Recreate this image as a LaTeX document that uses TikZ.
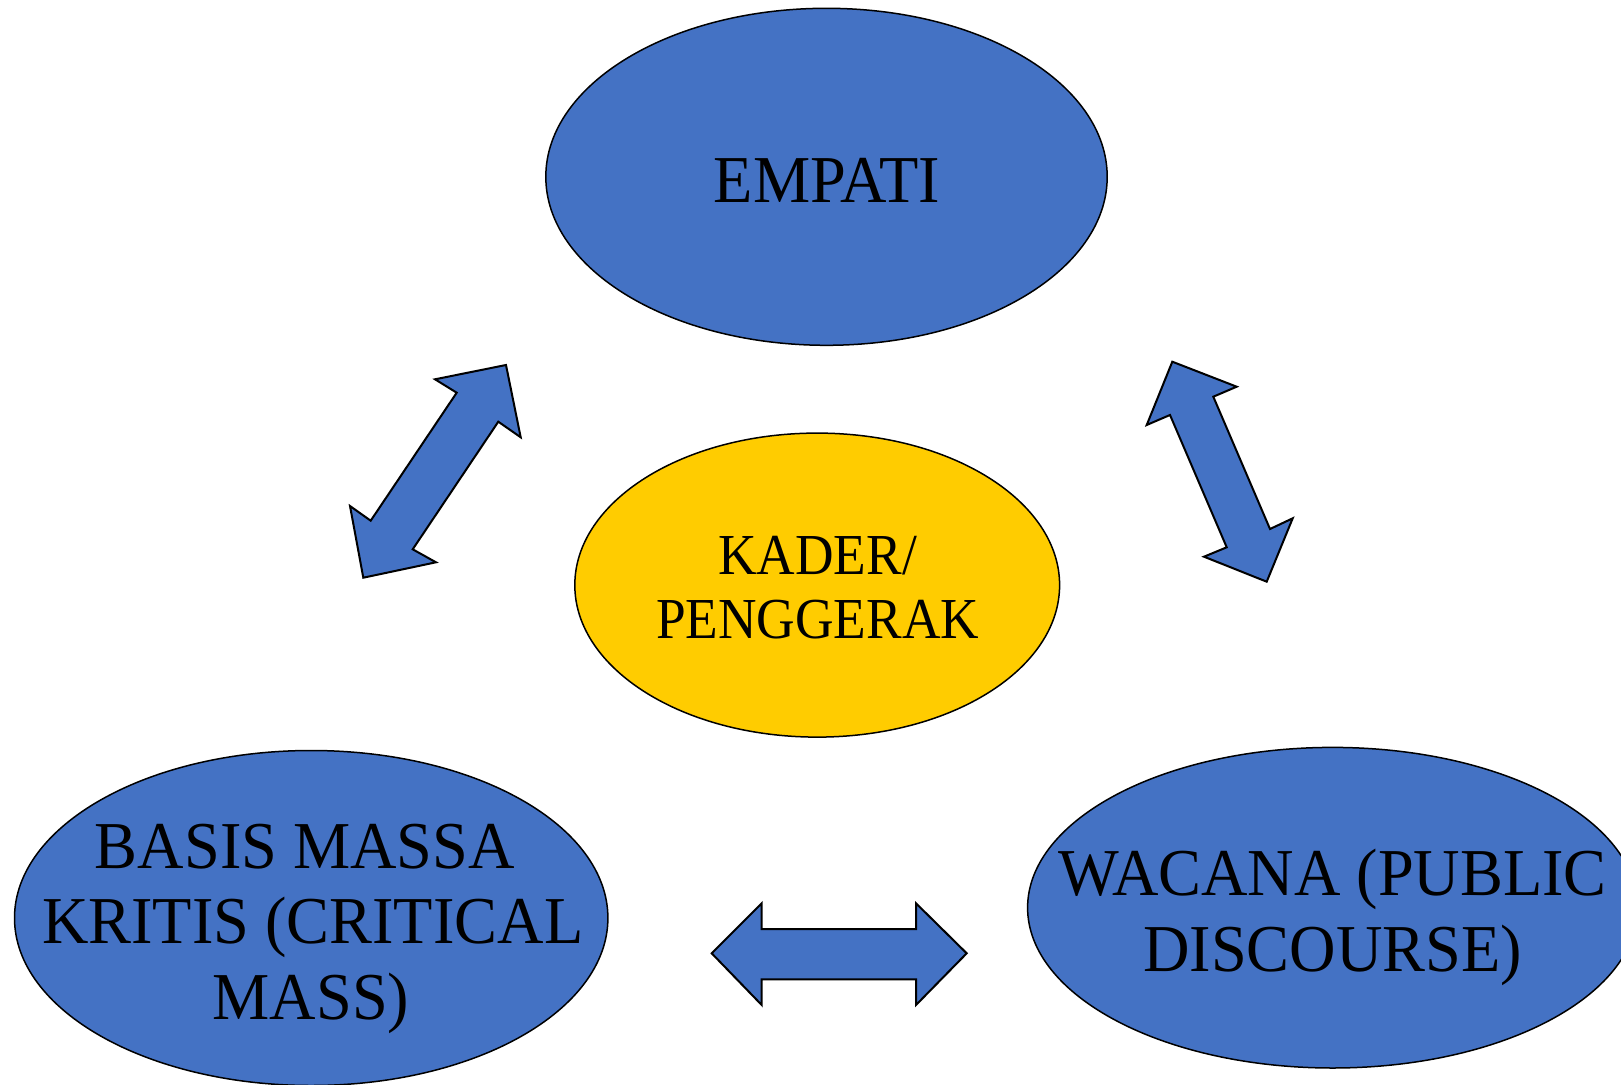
\documentclass[tikz,border=0pt]{standalone}
\usepackage{fontspec}
\setmainfont{Liberation Serif}
\newfontfamily\tnr[FakeStretch=0.92]{Liberation Serif}
\newfontfamily\tnrwide[FakeStretch=0.96]{Liberation Serif}
\usetikzlibrary{shapes.geometric}
\definecolor{oblue}{HTML}{4472C4}
\definecolor{ogold}{HTML}{FFCC00}
\begin{document}
\begin{tikzpicture}[x=0.5pt,y=-0.5pt,
  bubble/.style={ellipse, draw=black, line width=0.75pt, inner sep=0pt},
  bigtext/.style={font=\tnrwide\fontsize{33.5}{40}\selectfont, anchor=base, inner sep=0pt, text=black},
  midtext/.style={font=\tnr\fontsize{29}{34}\selectfont, anchor=base, inner sep=0pt, text=black},
  blockarrow/.style={fill=oblue, draw=black, line width=1pt, line join=miter}]
\useasboundingbox (0,0) rectangle (1621,1085);
\clip (0,0) rectangle (1621,1085);

% ellipses
\node[bubble, fill=oblue, minimum width=280.7pt, minimum height=168.5pt] (empati) at (826.5,176.8) {};
\node[bubble, fill=ogold, minimum width=242.4pt, minimum height=152pt] (kader) at (817.2,585.1) {};
\node[bubble, fill=oblue, minimum width=296.7pt, minimum height=167.5pt] (basis) at (311.2,918) {};
\node[bubble, fill=oblue, minimum width=305pt, minimum height=160.3pt] (wacana) at (1332.6,907.7) {};

% texts
\node[bigtext] (tE) at (827,202.6) {EMPATI};
\node[midtext] (tK1) at (817.7,574.8) {KADER/};
\node[midtext] (tK2) at (817.7,638.9) {PENGGERAK};
\node[bigtext] (tB1) at (305,868.4) {BASIS MASSA};
\node[bigtext] (tB2) at (312.7,943.9) {KRITIS (CRITICAL};
\node[bigtext] (tB3) at (311,1019.3) {MASS)};
\node[bigtext] (tW1) at (1332.6,895.3) {WACANA (PUBLIC};
\node[bigtext] (tW2) at (1332.6,971.8) {DISCOURSE)};

% block arrows
\draw[blockarrow] (506,365) -- (520.7,437.3) -- (498.3,421.7) -- (412.7,549.3) -- (436,562.3)
  -- (363.3,577.7) -- (350,506) -- (370.7,520.7) -- (456.7,392.7) -- (435,379.3) -- cycle;
\draw[blockarrow] (1172.3,361.7) -- (1236.7,386.7) -- (1213.3,396.7) -- (1270,529) -- (1292.7,518.3)
  -- (1266.7,581.7) -- (1204,556.7) -- (1226.7,547.3) -- (1170,415) -- (1146.7,425) -- cycle;
\draw[blockarrow] (711.7,953.3) -- (761.7,903.3) -- (761.7,929) -- (916,929) -- (916,903.3)
  -- (966.7,953.3) -- (916,1005) -- (916,979.3) -- (761.7,979.3) -- (761.7,1005) -- cycle;
\end{tikzpicture}
\end{document}
